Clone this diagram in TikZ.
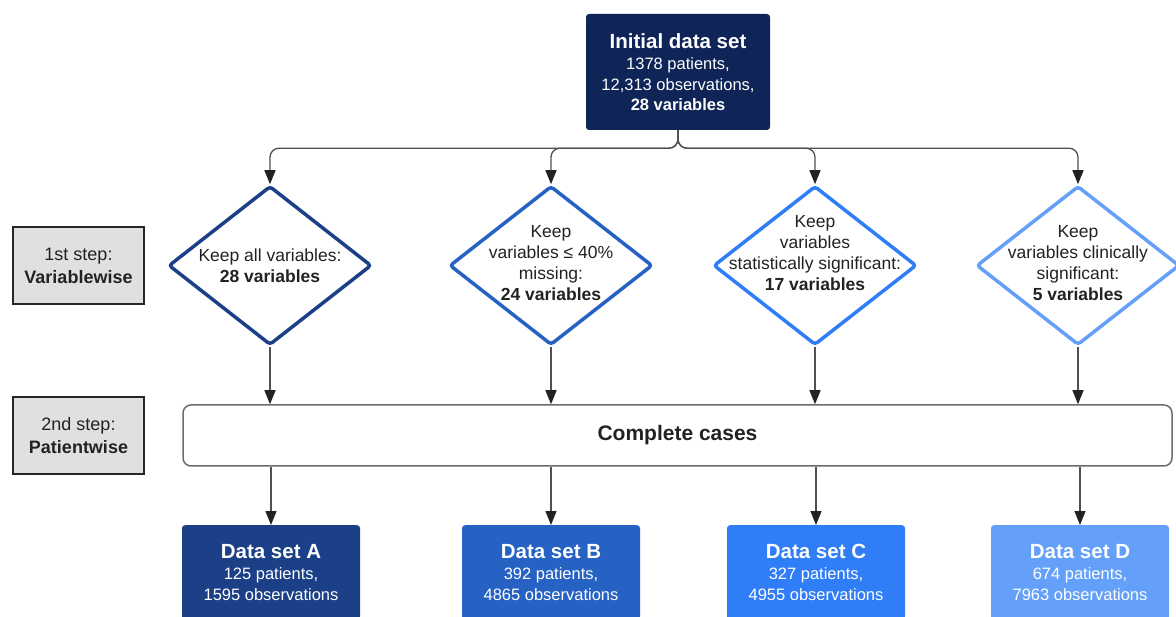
\documentclass[tikz,border=0pt]{standalone}
\usepackage{fontspec}
\setmainfont{Liberation Sans}
\usepackage{tikz}
\usetikzlibrary{arrows.meta,shapes.geometric}
\usetikzlibrary{positioning}
\definecolor{navy}{HTML}{0F2557}
\definecolor{blueA}{HTML}{1C4088}
\definecolor{blueB}{HTML}{2662C4}
\definecolor{blueC}{HTML}{307EF7}
\definecolor{blueD}{HTML}{64A0F9}
\definecolor{stepgray}{HTML}{E0E0E0}
\definecolor{linkgray}{HTML}{505050}
\definecolor{textgray}{HTML}{222222}
\tikzset{
	link/.style={draw=linkgray, line width=1.3pt,
		-{Triangle[length=14pt,width=11pt,color=textgray]}},
	choice/.style={diamond, draw=#1, line width=3.5pt, fill=white,
		rounded corners=3pt, minimum width=203pt, minimum height=159pt, inner sep=0pt},
	choicetext/.style={align=center, text=textgray, font=\fontsize{17.5}{21}\selectfont},
	stepbox/.style={rectangle, draw=black!85, line width=2.5pt, fill=stepgray,
		minimum width=131pt, minimum height=77pt, align=center, text=textgray,
		font=\fontsize{18}{23}\selectfont},
	dataset/.style={rectangle, fill=#1, rounded corners=3pt, minimum width=178pt,
		minimum height=94pt, align=center, text=white,
		font=\fontsize{16.5}{20.5}\selectfont},
}

\begin{document}
\begin{tikzpicture}[x=1pt, y=-1pt]
	\useasboundingbox (0,0) rectangle (1176,617);
	% start
	\node[dataset=navy, minimum width=184pt, minimum height=116pt] (init) at (678,72)
		{{\fontsize{20.5}{24}\selectfont\bfseries Initial data set}\\[1pt]
		1378 patients,\\12,313 observations,\\\textbf{28 variables}};
	% steps
	\node[stepbox] (step1) at (78.5,265.5) {1st step:\\\textbf{Variablewise}};
	\node[stepbox] (step2) at (78.5,435.5) {2nd step:\\\textbf{Patientwise}};
	% variablewise choices
	\node[choice=blueA] (keepA) at (270,265.5) {};
	\node[choice=blueB] (keepB) at (551,265.5) {};
	\node[choice=blueC] (keepC) at (815,265.5) {};
	\node[choice=blueD] (keepD) at (1078,265.5) {};
	\node[choicetext] (keepAtext) at (270,266) {Keep all variables:\\\textbf{28 variables}};
	\node[choicetext] (keepBtext) at (551,263) {Keep\\variables ≤ 40\%\\missing:\\\textbf{24 variables}};
	\node[choicetext] (keepCtext) at (815,253) {Keep\\variables\\statistically significant:\\\textbf{17 variables}};
	\node[choicetext] (keepDtext) at (1078,263) {Keep\\variables clinically\\significant:\\\textbf{5 variables}};
	% patientwise
	\node[rectangle, draw=gray!85!black, line width=1.5pt, rounded corners=8pt,
		minimum width=989pt, minimum height=61pt, text=textgray,
		font=\fontsize{21}{24}\selectfont\bfseries] (complete) at (677.5,435.5) {Complete cases};
	% results
	\node[dataset=blueA, anchor=north] (setA) at (271,525)
		{{\fontsize{20.5}{24}\selectfont\bfseries Data set A}\\[1pt]125 patients,\\1595 observations};
	\node[dataset=blueB, anchor=north] (setB) at (551,525)
		{{\fontsize{20.5}{24}\selectfont\bfseries Data set B}\\[1pt]392 patients,\\4865 observations};
	\node[dataset=blueC, anchor=north] (setC) at (816,525)
		{{\fontsize{20.5}{24}\selectfont\bfseries Data set C}\\[1pt]327 patients,\\4955 observations};
	\node[dataset=blueD, anchor=north] (setD) at (1080,525)
		{{\fontsize{20.5}{24}\selectfont\bfseries Data set D}\\[1pt]674 patients,\\7963 observations};
	% connectors
	\draw[link, rounded corners=9pt] (init.south) -- ++(0,18) -| (keepA.north);
	\draw[link, rounded corners=9pt] (init.south) -- ++(0,18) -| (keepB.north);
	\draw[link, rounded corners=9pt] (init.south) -- ++(0,18) -| (keepC.north);
	\draw[link, rounded corners=9pt] (init.south) -- ++(0,18) -| (keepD.north);
	\draw[link] (keepA.south) -- (keepA.south |- complete.north);
	\draw[link] (keepB.south) -- (keepB.south |- complete.north);
	\draw[link] (keepC.south) -- (keepC.south |- complete.north);
	\draw[link] (keepD.south) -- (keepD.south |- complete.north);
	\draw[link] (complete.south -| setA.north) -- (setA.north);
	\draw[link] (complete.south -| setB.north) -- (setB.north);
	\draw[link] (complete.south -| setC.north) -- (setC.north);
	\draw[link] (complete.south -| setD.north) -- (setD.north);
\end{tikzpicture}
\end{document}
